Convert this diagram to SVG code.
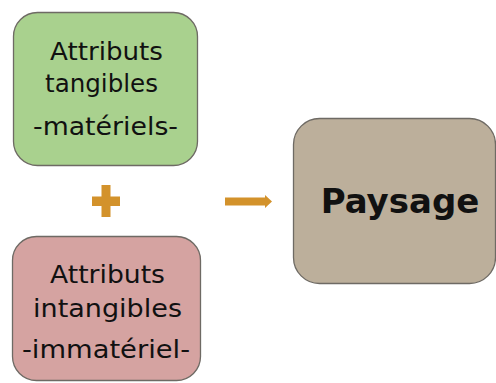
<svg xmlns="http://www.w3.org/2000/svg" width="496" height="383" viewBox="0 0 496 383">
<style>
.box{stroke:#6e6a64;stroke-width:1.3}
.t{font-family:"DejaVu Sans","Liberation Sans",sans-serif;font-size:25px;fill:#111;text-anchor:middle}
.b{font-family:"DejaVu Sans","Liberation Sans",sans-serif;font-size:34px;font-weight:bold;fill:#111;text-anchor:middle}
.o{fill:#D3922B}
</style>
<rect width="496" height="383" fill="#fff"/>
<g id="tangibles">
<rect class="box" x="13.5" y="12.5" width="184" height="153" rx="24" fill="#A9D18E"/>
<text class="t" x="106.5" y="60" textLength="113" lengthAdjust="spacingAndGlyphs">Attributs</text>
<text class="t" x="101.5" y="92" textLength="113" lengthAdjust="spacingAndGlyphs">tangibles</text>
<text class="t" x="105.5" y="135" textLength="145" lengthAdjust="spacingAndGlyphs">-matériels-</text>
</g>
<g id="intangibles">
<rect class="box" x="12.5" y="236.5" width="188" height="144" rx="24" fill="#D5A3A1"/>
<text class="t" x="107.5" y="283" textLength="115" lengthAdjust="spacingAndGlyphs">Attributs</text>
<text class="t" x="107.5" y="317" textLength="149" lengthAdjust="spacingAndGlyphs">intangibles</text>
<text class="t" x="106" y="358" textLength="168" lengthAdjust="spacingAndGlyphs">-immatériel-</text>
</g>
<g id="plus">
<rect class="o" x="101.5" y="185" width="9" height="32"/>
<rect class="o" x="92" y="196.5" width="28" height="9.5"/>
</g>
<g id="connectors">
<path class="o" d="M225 197.5 H265 V195 L272 201.5 L265 208 V205.5 H225 Z"/>
</g>
<g id="paysage">
<rect class="box" x="293.5" y="118.5" width="202" height="165" rx="26" fill="#BCAF9B"/>
<text class="b" x="400" y="213">Paysage</text>
</g>
</svg>
